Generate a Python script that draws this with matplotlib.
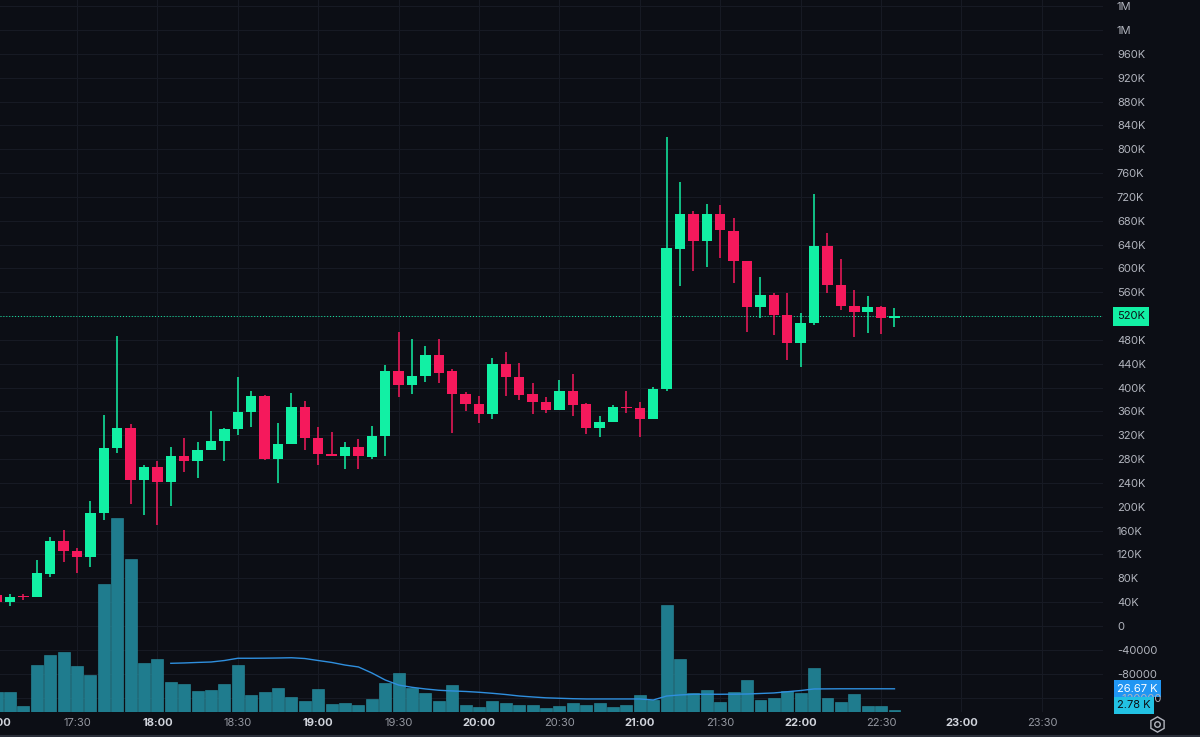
import numpy as np
import pandas as pd
import matplotlib
matplotlib.use("Agg")
import matplotlib.pyplot as plt
from matplotlib.transforms import blended_transform_factory
from matplotlib.lines import Line2D

# 5-minute candles from 17:00, prices in thousands
opens  = [52, 40, 50, 49, 88, 143, 126, 116, 189, 298, 333, 245, 267, 242, 286, 277, 296, 310, 331, 359,
          386, 281, 306, 367, 316, 289, 285, 301, 284, 318, 427, 404, 420, 455, 427, 389, 372, 355, 440, 417,
          389, 375, 362, 395, 372, 332, 342, 368, 366, 348, 397, 633, 692, 646, 692, 663, 612, 536, 555, 522,
          474, 508, 638, 572, 537, 526, 536, 517]
highs  = [54, 54, 54, 111, 149, 161, 131, 210, 354, 487, 339, 270, 276, 301, 315, 309, 360, 333, 418, 394,
          388, 341, 391, 378, 334, 326, 309, 313, 336, 438, 494, 481, 470, 481, 432, 393, 386, 450, 459, 441,
          407, 385, 412, 423, 374, 352, 371, 395, 376, 401, 820, 745, 697, 708, 706, 684, 613, 585, 559, 558,
          525, 724, 659, 615, 564, 554, 537, 534]
lows   = [38, 34, 44, 48, 82, 108, 89, 99, 178, 290, 205, 186, 169, 201, 259, 248, 295, 277, 320, 334,
          278, 240, 305, 296, 270, 285, 263, 263, 280, 285, 385, 390, 410, 407, 323, 361, 340, 348, 386, 379,
          356, 357, 362, 352, 322, 317, 342, 358, 317, 347, 395, 571, 595, 603, 618, 575, 493, 516, 488, 447,
          435, 505, 558, 530, 485, 492, 490, 502]
closes = [40, 49, 48, 89, 143, 125, 115, 189, 298, 333, 245, 267, 242, 286, 277, 296, 310, 331, 359, 386,
          281, 306, 367, 315, 289, 286, 301, 285, 318, 427, 404, 420, 455, 425, 389, 372, 355, 440, 417, 388,
          375, 362, 395, 371, 332, 342, 367, 366, 348, 397, 634, 691, 646, 692, 664, 612, 536, 555, 522, 474,
          508, 638, 572, 537, 526, 536, 517, 520]

# volume in thousands and its moving average
volumes = [23, 23, 6.5, 54, 66, 69, 53, 42, 147, 223, 176, 56, 61, 34.5, 32.5, 24, 25, 32, 54, 19.5,
           23.5, 28, 17, 12.5, 26, 9.5, 10.5, 7.7, 14.6, 33.7, 45, 28, 21.5, 12.6, 30.5, 7.7, 5.4, 13, 10.3, 8.4,
           7.7, 4.3, 6.6, 10, 8, 10.3, 5.8, 7.7, 19.2, 13.8, 123, 61.3, 21.5, 25, 11.8, 23, 36.8, 13.8, 15.8, 24,
           21.5, 50.6, 16, 11.8, 20.4, 6.6, 6.6, 2.78]
vol_ma = [np.nan] * 13 + [56, 56.4, 57, 57.5, 59.2, 61.8, 61.8, 61.9, 62.1, 62.4, 61.5, 59.2, 57, 54, 51.8,
          44.9, 36.8, 31, 28.4, 26.5, 25, 24.2, 23.6, 22.7, 21.5, 20.1, 18.4, 17.3, 16.3, 15.8, 15.3, 15, 15,
          15, 15, 15, 13.8, 18.4, 19.6, 20.4, 20.4, 20.4, 20.5, 20.7, 21.3, 21.9, 23.3, 24.7, 26.5, 26.6,
          26.7, 26.7, 26.7, 26.7, 26.67]

time_labels = ["17:00", "17:30", "18:00", "18:30", "19:00", "19:30", "20:00",
               "20:30", "21:00", "21:30", "22:00", "22:30", "23:00", "23:30"]

BG = "#0c0e15"
GRID = "#171a24"
UP = "#12f0a4"
DOWN = "#f5195c"
VOL = "#1f7c8e"
MA = "#2f8fde"
TXT = "#b2b5be"

times = pd.date_range("2024-01-01 17:00", periods=len(opens), freq="5min")
x = np.asarray((times - times[0]).total_seconds() / 60)
o = np.array(opens, float)
c = np.array(closes, float)
colors = [UP if cc >= oo else DOWN for oo, cc in zip(o, c)]

XLIM = (1.27, 412.8)
YLIM = (-144.3, 1050.3)
price_ticks = np.arange(-120, 1041, 40)
grid_x = np.arange(30, 391, 30)

plt.rcParams["font.family"] = ["Inter", "DejaVu Sans"]
fig = plt.figure(figsize=(12, 7.37), dpi=100, facecolor=BG)
rect = [0, 25 / 737, 1103 / 1200, 712 / 737]

# background grid (below the volume bars)
ax_bg = fig.add_axes(rect)
ax_bg.set_facecolor(BG)
ax_bg.set_xlim(*XLIM)
ax_bg.set_ylim(*YLIM)
ax_bg.set_xticks(grid_x)
ax_bg.set_yticks(price_ticks)
ax_bg.tick_params(length=0, labelbottom=False, labelleft=False)
ax_bg.grid(True, color=GRID, lw=0.8)

# volume panel
ax2 = fig.add_axes(rect)
ax2.patch.set_visible(False)
ax2.bar(x, volumes, width=4.45, color=VOL, edgecolor="#2a8ea0", linewidth=0.4)
ax2.plot(x, vol_ma, color=MA, lw=1)
ax2.set_xlim(*XLIM)
ax2.set_ylim(0, 712 * 1.15)
ax2.set_xticks([])
ax2.set_yticks([])

# candles
ax = fig.add_axes(rect)
ax.patch.set_visible(False)
ax.vlines(x, lows, highs, colors=colors, lw=1.1, zorder=3)
body_low = np.minimum(o, c)
body_h = np.maximum(np.abs(c - o), 1.6)
ax.bar(x, body_h, bottom=body_low, width=3.9, color=colors, zorder=4)
ax.set_xlim(*XLIM)
ax.set_ylim(*YLIM)

def fmt_price(v, pos=None):
    if v >= 1000:
        return "1M"
    if v > 0:
        return f"{int(round(v))}K"
    if v == 0:
        return "0"
    return f"{int(round(v * 1000))}"

ax.yaxis.tick_right()
ax.set_yticks(price_ticks)
ax.yaxis.set_major_formatter(plt.FuncFormatter(fmt_price))
ax.tick_params(axis="y", length=0, pad=10, labelsize=8, labelcolor=TXT)
ax.set_xticks([])
for a in (ax_bg, ax, ax2):
    for s in a.spines.values():
        s.set_visible(False)

# time labels under the plot
tr = blended_transform_factory(ax.transData, fig.transFigure)
for i, lab in enumerate(time_labels):
    bold = lab.endswith(":00")
    ax.text(i * 30, 1 - 723.5 / 737, lab, transform=tr, ha="center", va="center",
            fontsize=8, color="#d1d4dc" if bold else "#9598a1",
            fontweight="bold" if bold else "normal", clip_on=False)

# last price line and badges
ax.axhline(closes[-1], color=UP, ls=(0, (1, 2)), lw=0.7, zorder=2)
trp = blended_transform_factory(fig.transFigure, ax.transData)
ax.text(1117 / 1200, closes[-1], fmt_price(closes[-1]), transform=trp, ha="left", va="center",
        fontsize=8, color="#0c0e15", zorder=10, clip_on=False,
        bbox=dict(boxstyle="square,pad=0.4", fc=UP, ec="none"))
trv = blended_transform_factory(fig.transFigure, ax2.transData)
ax2.text(1117 / 1200, vol_ma[-1], f"{vol_ma[-1]:.2f} K", transform=trv, ha="left", va="center",
         fontsize=8, color="white", zorder=10, clip_on=False,
         bbox=dict(boxstyle="square,pad=0.3", fc="#2196f3", ec="none"))
fig.text(1117 / 1200, 1 - 705.5 / 737, f"{volumes[-1]:.2f} K", ha="left", va="center",
         fontsize=8, color="#0c0e15", zorder=10,
         bbox=dict(boxstyle="square,pad=0.3", fc="#22c1e3", ec="none"))

# settings icon and bottom edge
fig.add_artist(Line2D([1157 / 1200], [1 - 724 / 737], marker="h", ms=11, mfc="none",
                      mec=TXT, mew=1, transform=fig.transFigure))
fig.add_artist(Line2D([1157 / 1200], [1 - 724 / 737], marker="o", ms=4, mfc="none",
                      mec=TXT, mew=1, transform=fig.transFigure))
fig.add_artist(Line2D([0, 1], [1 - 736 / 737] * 2, color="#2a2e39", lw=1.5,
                      transform=fig.transFigure))

fig.savefig("out.png", dpi=100, facecolor=BG)
